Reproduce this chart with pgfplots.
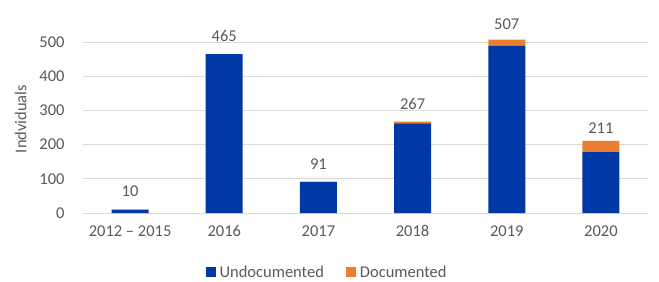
\documentclass[border=0pt]{standalone}
\usepackage{pgfplots}
\pgfplotsset{compat=1.18}
\usepackage{pgfplotstable}
\usepackage{fontspec}
\setmainfont{Carlito}
\definecolor{ublue}{HTML}{0039A6}
\definecolor{dorange}{HTML}{ED7D31}
\definecolor{txtgray}{HTML}{595959}
\definecolor{gridgray}{HTML}{D9D9D9}
\pgfplotstableread{
x und doc total
0 10 0.01 10
1 465 0.01 465
2 91 0.01 91
3 262 5 267
4 490 17 507
5 178 33 211
}\datatable
\begin{document}
\begin{tikzpicture}
\useasboundingbox (-83bp,-69bp) rectangle (576bp,213bp);
\begin{axis}[
  at={(0,0)}, anchor=south west,
  scale only axis, width=565bp, height=188bp,
  ybar stacked, bar width=37bp,
  xmin=-0.5, xmax=5.5, ymin=0, ymax=550,
  xtick=data,
  xticklabels={2012 -- 2015,2016,2017,2018,2019,2020},
  ytick={0,100,200,300,400,500},
  ymajorgrids, grid style={gridgray, line width=0.8pt},
  axis line style={draw=none},
  axis x line*=bottom,
  x axis line style={gridgray, line width=0.8pt},
  tick style={draw=none},
  font=\fontsize{16.5bp}{18bp}\selectfont,
  tick label style={txtgray, font=\fontsize{16.5bp}{18bp}\selectfont},
  /pgf/number format/assume math mode=true,
  yticklabel style={xshift=-15bp},
  xticklabel style={yshift=-9bp},
  ylabel={Indviduals}, ylabel style={txtgray, font=\fontsize{16.5bp}{18bp}\selectfont, yshift=6bp},
  legend style={at={(0.432,-0.315)}, anchor=center, draw=none, legend columns=2,
    font=\fontsize{16.5bp}{18bp}\selectfont, text=txtgray,
    /tikz/every even column/.append style={column sep=20bp},
    /tikz/every odd column/.append style={column sep=2bp}},
  legend image code/.code={\fill[#1] (0bp,-5bp) rectangle (10bp,5bp);},
  clip=false,
]
\addplot[fill=ublue, draw=none] table[x=x, y=und] {\datatable};
\addlegendentry{Undocumented}
\addplot[fill=dorange, draw=none,
  nodes near coords, point meta=explicit,
  every node near coord/.append style={txtgray, anchor=south, yshift=9bp, font=\fontsize{16.5bp}{18bp}\selectfont, /pgf/number format/assume math mode=true}]
  table[x=x, y=doc, meta=total] {\datatable};
\addlegendentry{Documented}
\end{axis}
\end{tikzpicture}
\end{document}
